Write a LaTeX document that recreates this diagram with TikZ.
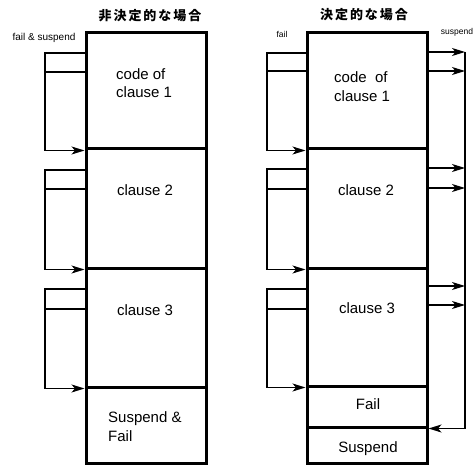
\documentclass[tikz,border=0pt]{standalone}
\usepackage{fontspec}
\setmainfont{Liberation Sans}
\newfontfamily\jp[LetterSpace=15]{Noto Sans CJK JP}
\usetikzlibrary{arrows.meta}
\begin{document}
\begin{tikzpicture}[x=1pt,y=-1pt,
  blk/.style={draw,line width=3pt,minimum width=120pt,inner sep=0pt},
  thinline/.style={line width=1.2pt},
  arr/.style={thinline,-{Stealth[length=13pt,width=8pt,inset=3.5pt]}},
  txt/.style={inner sep=0pt,font=\fontsize{15}{18}\selectfont},
  small/.style={inner sep=0pt,font=\fontsize{10}{12}\selectfont},
  tiny/.style={inner sep=0pt,font=\fontsize{8.5}{10}\selectfont},
  ttl/.style={inner sep=0pt,font=\jp\bfseries\fontsize{13}{15}\selectfont}]
\useasboundingbox (0,0) rectangle (476,465);
% titles
\node[ttl] (t1) at (150,16) {非決定的な場合};
\node[ttl] (t2) at (364,15) {決定的な場合};
% left column
\node[blk,minimum height=116pt] (L1) at (146,91) {};
\node[blk,minimum height=119pt] (L2) at (146,208.5) {};
\node[blk,minimum height=119pt] (L3) at (146,327.5) {};
\node[blk,minimum height=76pt] (L4) at (146,425) {};
\node[txt,anchor=base west] (L1a) at (116,80) {code of};
\node[txt,anchor=base west] (L1b) at (116,98) {clause 1};
\node[txt,anchor=base] (L2a) at (145,196) {clause 2};
\node[txt,anchor=base] (L3a) at (145,315) {clause 3};
\node[txt,anchor=base west] (L4a) at (108,422) {Suspend \&};
\node[txt,anchor=base west] (L4b) at (108,441) {Fail};
\node[small,anchor=base] (lfs) at (44,41) {fail \& suspend};
% left brackets
\draw[arr] (L1.west |- 0,53) -- (45,53) |- (L1.south west);
\draw[thinline] (L1.west |- 0,72) -- (45,72);
\draw[arr] (L2.west |- 0,170) -- (45,170) |- (L2.south west);
\draw[thinline] (L2.west |- 0,189) -- (45,189);
\draw[arr] (L3.west |- 0,289) -- (45,289) |- (L3.south west);
\draw[thinline] (L3.west |- 0,309) -- (45,309);
% right column
\node[blk,minimum height=116pt] (R1) at (367,91) {};
\node[blk,minimum height=119pt] (R2) at (367,208.5) {};
\node[blk,minimum height=118pt] (R3) at (367,327) {};
\node[blk,minimum height=41pt] (R4) at (367,406.5) {};
\node[blk,minimum height=36pt] (R5) at (367,445) {};
\node[txt,anchor=base west] (R1a) at (334,83) {code\ \ of};
\node[txt,anchor=base west] (R1b) at (334,102) {clause 1};
\node[txt,anchor=base] (R2a) at (366,195) {clause 2};
\node[txt,anchor=base] (R3a) at (367,313) {clause 3};
\node[txt,anchor=base] (R4a) at (368,409) {Fail};
\node[txt,anchor=base] (R5a) at (368,452) {Suspend};
\node[tiny,anchor=base] (rf) at (282,38) {fail};
\node[tiny,anchor=base] (rs) at (457,35) {suspend};
% right-column left brackets
\draw[arr] (R1.west |- 0,53) -- (267,53) |- (R1.south west);
\draw[thinline] (R1.west |- 0,71) -- (267,71);
\draw[arr] (R2.west |- 0,169) -- (267,169) |- (R2.south west);
\draw[thinline] (R2.west |- 0,189) -- (267,189);
\draw[arr] (R3.west |- 0,289) -- (267,289) |- (R3.south west);
\draw[thinline] (R3.west |- 0,309) -- (267,309);
% suspend bus
\coordinate (bt) at (465,52);
\draw[arr] (R1.east |- 0,52) -- (bt);
\draw[arr] (R1.east |- 0,71) -- (465,71);
\draw[arr] (R2.east |- 0,168) -- (465,168);
\draw[arr] (R2.east |- 0,188) -- (465,188);
\draw[arr] (R3.east |- 0,286) -- (465,286);
\draw[arr] (R3.east |- 0,305) -- (465,305);
\draw[arr] (bt) |- (R4.south east);
\end{tikzpicture}
\end{document}
